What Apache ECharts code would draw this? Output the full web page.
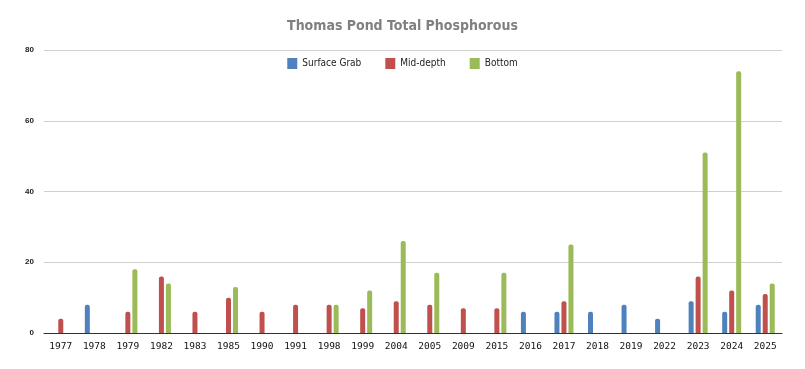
<!DOCTYPE html>
<html><head><meta charset="utf-8">
<script src="https://cdn.jsdelivr.net/npm/echarts@6/dist/echarts.min.js"></script>
<style>html,body{margin:0;padding:0;background:#fff}#c{width:805px;height:369px}</style>
</head><body><div id="c"></div>
<script>
const categories = ['1977','1978','1979','1982','1983','1985','1990','1991','1998','1999','2004','2005','2009','2015','2016','2017','2018','2019','2022','2023','2024','2025'];
const surfaceGrab = [null,8,null,null,null,null,null,null,null,null,null,null,null,null,6,6,6,8,4,9,6,8];
const midDepth =    [4,null,6,16,6,10,6,8,8,7,9,8,7,7,null,9,null,null,null,16,12,11];
const bottom =      [null,null,18,14,null,13,null,null,8,12,26,17,null,17,null,25,null,null,null,51,74,14];
const yTicks = [0,20,40,60,80];

const narrow = "'Liberation Sans Narrow','DejaVu Sans Condensed','Liberation Sans',sans-serif";
const chart = echarts.init(document.getElementById('c'), null, {renderer:'canvas'});
function bar(name, data, color){
  return {name, type:'bar', data, barWidth:5, barGap:'40%',
    itemStyle:{color, borderRadius:[2,2,0,0]}};
}
chart.setOption({
  animation:false,
  title:{text:'Thomas Pond Total Phosphorous', left:'center', top:14,
    textStyle:{fontFamily:narrow, fontSize:14, fontWeight:'bold', color:'#808080'}},
  legend:{top:53, left:'center', itemWidth:10, itemHeight:11, itemGap:24,
    icon:'rect',
    textStyle:{fontFamily:narrow, fontSize:10, color:'#222'},
    data:['Surface Grab','Mid-depth','Bottom']},
  grid:{left:44, right:23, top:50, bottom:36, containLabel:false},
  xAxis:{type:'category', data:categories,
    axisLine:{lineStyle:{color:'#333', width:1}},
    axisTick:{show:false},
    axisLabel:{fontFamily:"'DejaVu Sans Mono',monospace", fontSize:9.5, color:'#111', margin:9, interval:0}},
  yAxis:{type:'value', min:yTicks[0], max:yTicks[yTicks.length-1], interval:20,
    axisLine:{show:false}, axisTick:{show:false},
    splitLine:{lineStyle:{color:'#d0d0d0'}},
    axisLabel:{fontFamily:"'Liberation Sans',sans-serif", fontSize:8, fontWeight:'bold', color:'#222', margin:10}},
  series:[bar('Surface Grab', surfaceGrab, '#4f81bd'), bar('Mid-depth', midDepth, '#c0504d'), bar('Bottom', bottom, '#9bbb59')]
});
</script></body></html>
